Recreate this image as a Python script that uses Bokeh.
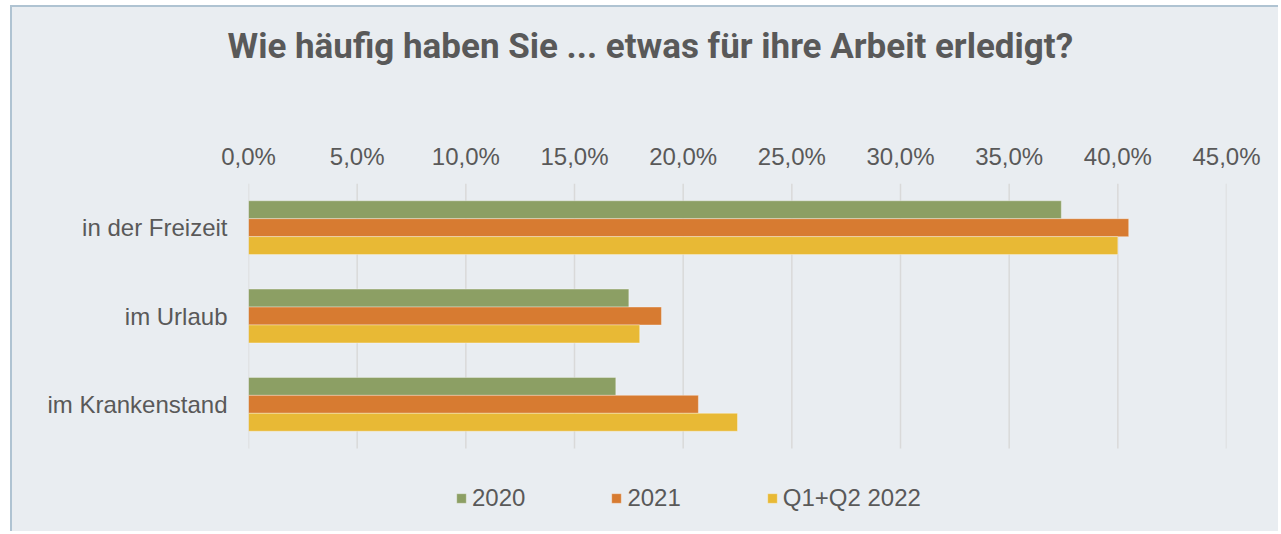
from bokeh.plotting import figure
from bokeh.models import (ColumnDataSource, Range1d, FixedTicker, LinearAxis,
                          Title, Legend, LegendItem)
from bokeh.embed import file_html
from bokeh.resources import INLINE

title_text = "Wie häufig haben Sie ... etwas für ihre Arbeit erledigt?"
categories = ["in der Freizeit", "im Urlaub", "im Krankenstand"]
series = ["2020", "2021", "Q1+Q2 2022"]
v2020 = [37.4, 17.5, 16.9]
v2021 = [40.5, 19.0, 20.7]
v2022 = [40.0, 18.0, 22.5]
tick_values = [0, 5, 10, 15, 20, 25, 30, 35, 40, 45]
tick_labels = ["0,0%", "5,0%", "10,0%", "15,0%", "20,0%", "25,0%",
               "30,0%", "35,0%", "40,0%", "45,0%"]
colors = ["#8C9F64", "#D77B31", "#E8B935"]

TEXT = "#595959"
BG = "#E9EDF1"
FONT = "Liberation Sans"

# layout (pixels)
W, H = 1268, 526
LEFT, FRAME_W = 236, 978
TOP = 176
CAT_PX = 265 / 3.0
FRAME_H = H - TOP

n = len(categories)
centers = [n - i - 0.5 for i in range(n)]
bh = 0.203

p = figure(width=W, height=H, output_backend="svg", toolbar_location=None,
           x_range=Range1d(tick_values[0], tick_values[-1]),
           y_range=Range1d(n - FRAME_H / CAT_PX, n),
           x_axis_location="above",
           min_border_left=LEFT, min_border_right=W - LEFT - FRAME_W,
           min_border_top=TOP, min_border_bottom=0)
p.background_fill_color = None
p.border_fill_color = None
p.outline_line_color = None
p.styles = {"margin-left": "10px", "margin-top": "5px",
            "background-color": BG,
            "border-left": "2px solid #AFC3D2",
            "border-top": "2px solid #AFC3D2"}

# vertical grid lines spanning the category area
p.segment(x0=tick_values, x1=tick_values, y0=[0] * len(tick_values),
          y1=[n] * len(tick_values), line_color="#D9D9D9", line_width=1.5)

renderers = []
for j, vals in enumerate([v2020, v2021, v2022]):
    src = ColumnDataSource(dict(y=[c + (1 - j) * bh for c in centers],
                                right=vals))
    r = p.hbar(y="y", right="right", left=0, height=bh, source=src,
               fill_color=colors[j], line_color="white", line_alpha=0.35,
               line_width=1)
    renderers.append(r)

xa = p.xaxis[0]
xa.ticker = FixedTicker(ticks=tick_values)
xa.major_label_overrides = dict(zip(tick_values, tick_labels))
xa.axis_line_color = None
xa.major_tick_line_color = None
xa.minor_tick_line_color = None
xa.major_tick_out = 0
xa.major_tick_in = 0
xa.major_label_standoff = 14
xa.major_label_text_font = FONT
xa.major_label_text_font_size = "24px"
xa.major_label_text_color = TEXT

ya = p.yaxis[0]
ya.ticker = FixedTicker(ticks=centers)
ya.major_label_overrides = dict(zip(centers, categories))
ya.axis_line_color = None
ya.major_tick_line_color = None
ya.minor_tick_line_color = None
ya.major_tick_out = 0
ya.major_tick_in = 0
ya.major_label_standoff = 21
ya.major_label_text_font = FONT
ya.major_label_text_font_size = "24px"
ya.major_label_text_color = TEXT

p.xgrid.grid_line_color = None
p.ygrid.grid_line_color = None

# invisible spacer (background-coloured tick, empty label) below the title
spacer = LinearAxis(ticker=FixedTicker(ticks=[tick_values[0]]),
                    major_label_overrides={tick_values[0]: ""},
                    axis_line_color=None, major_tick_line_color=BG,
                    minor_tick_line_color=None, major_tick_out=73,
                    major_tick_in=0, major_label_standoff=0,
                    major_label_text_font_size="1px")
p.add_layout(spacer, "above")

p.title = Title(text=title_text, align="left", offset=-21, standoff=0,
                text_font="Roboto", text_font_style="bold",
                text_font_size="35px", text_color=TEXT)

legend = Legend(items=[LegendItem(label=s, renderers=[r])
                       for s, r in zip(series, renderers)],
                orientation="horizontal", location=(207, 21),
                glyph_width=12, glyph_height=12, label_standoff=5,
                label_height=24, spacing=85, padding=0, margin=0,
                border_line_color=None, background_fill_alpha=0,
                label_text_font=FONT, label_text_font_size="24px",
                label_text_color=TEXT)
p.add_layout(legend, "center")

open("out.html", "w").write(file_html(p, INLINE))
